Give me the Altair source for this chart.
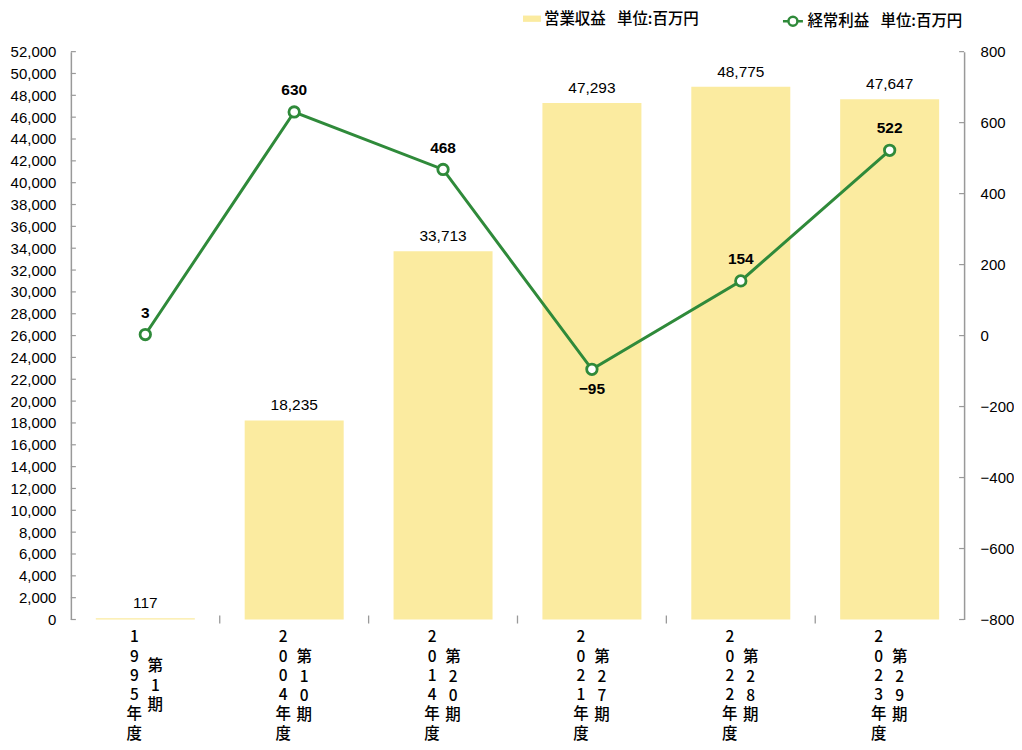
import altair as alt
import pandas as pd

# ---- data ----
years = ["1995年度", "2004年度", "2014年度", "2021年度", "2022年度", "2023年度"]
periods = ["第1期", "第10期", "第20期", "第27期", "第28期", "第29期"]
revenue = [117, 18235, 33713, 47293, 48775, 47647]
profit = [3, 630, 468, -95, 154, 522]
left_ticks = [0, 2000, 4000, 6000, 8000, 10000, 12000, 14000, 16000, 18000, 20000,
              22000, 24000, 26000, 28000, 30000, 32000, 34000, 36000, 38000, 40000,
              42000, 44000, 46000, 48000, 50000, 52000]
right_ticks = [-800, -600, -400, -200, 0, 200, 400, 600, 800]
rev_name = "営業収益\u2002\u00a0単位:百万円"
prof_name = "経常利益\u2002\u00a0単位:百万円"

BAR = "#FBEBA0"
GREEN = "#2F8A3A"
AXIS = "#999999"
NUM_FONT = "Liberation Sans, Arial, Noto Sans CJK JP"
JP_FONT = "Noto Sans CJK JP, Liberation Sans"

W, H = 895, 569
P_IN = 0.335
HALF_GAP = W / len(periods) * P_IN / 2

df = pd.DataFrame({
    "cat": periods,
    "year": ["\n".join(y) for y in years],
    "period": ["\n".join(p) for p in periods],
    "plen": [len(p) for p in periods],
    "revenue": revenue,
    "profit": profit,
    "rev_name": [rev_name] * len(periods),
    "prof_name": [prof_name] * len(periods),
})
lt = pd.DataFrame({"v": left_ticks})
rt = pd.DataFrame({"v": right_ticks})

xscale = alt.Scale(paddingInner=P_IN, paddingOuter=P_IN / 2)
x_axis = alt.X("cat:N", sort=periods, scale=xscale, title=None,
               axis=alt.Axis(labels=False, ticks=False, domainColor=AXIS, domainWidth=1.5))
x_plain = alt.X("cat:N", sort=periods, scale=xscale, axis=None)

lscale = alt.Scale(domain=[0, 52000], nice=False, zero=False)
rscale = alt.Scale(domain=[-800, 800], nice=False, zero=False)

base = alt.Chart(df)

bars = base.mark_bar(color=BAR).encode(
    x=x_axis,
    y=alt.Y("revenue:Q", scale=lscale, title=None,
            axis=alt.Axis(values=left_ticks, format=",.0f", ticks=False, tickSize=0,
                          labelPadding=15, grid=False, domainColor=AXIS, domainWidth=1.5,
                          labelFontSize=15, labelColor="black", labelFont=NUM_FONT)),
    color=alt.Color("rev_name:N", scale=alt.Scale(range=[BAR]),
                    legend=alt.Legend(title=None, orient="none", legendX=453, legendY=-42,
                                      padding=0, symbolType="M-1,-0.35H1V0.35H-1Z",
                                      symbolSize=324, symbolStrokeWidth=0,
                                      labelFontSize=15.5, labelFont=JP_FONT,
                                      labelFontWeight=500, labelLimit=400,
                                      labelColor="black", labelOffset=3)),
)

# category separator ticks on the x axis (at the band boundaries)
x_sep = base.transform_filter(f"datum.cat != '{periods[0]}'").mark_rule(
    color=AXIS, strokeWidth=1.3, xOffset=-HALF_GAP).encode(
    x=alt.X("cat:N", sort=periods, scale=xscale, axis=None, bandPosition=0),
    y=alt.value(H - 4), y2=alt.value(H + 4),
)

bar_labels = base.mark_text(dy=-15, baseline="middle", fontSize=15.5, font=NUM_FONT,
                            color="black").encode(
    x=x_plain,
    y=alt.Y("revenue:Q", scale=lscale, axis=None),
    text=alt.Text("revenue:Q", format=","),
)

left_tick_rules = alt.Chart(lt).mark_rule(color=AXIS, strokeWidth=1.2).encode(
    y=alt.Y("v:Q", scale=lscale, axis=None),
    x=alt.value(0), x2=alt.value(5),
)

LBL = dict(baseline="middle", align="center", fontSize=15.5, lineBreak="\n",
           lineHeight=19.3, font=JP_FONT, fontWeight=500, color="black")

year_labels = base.mark_text(dx=-11, **LBL).encode(
    x=x_plain, y=alt.value(587), text="year:N")
period3_labels = base.transform_filter("datum.plen == 3").mark_text(dx=10, **LBL).encode(
    x=x_plain, y=alt.value(616), text="period:N")
period4_labels = base.transform_filter("datum.plen == 4").mark_text(dx=10, **LBL).encode(
    x=x_plain, y=alt.value(607), text="period:N")

line_sym = ("M-1,0H-0.45M0.45,0H1M-0.45,0A0.45,0.45 0 1,0 0.45,0"
            "A0.45,0.45 0 1,0 -0.45,0Z")

line = base.mark_line(strokeWidth=3).encode(
    x=x_plain,
    y=alt.Y("profit:Q", scale=rscale, title=None,
            axis=alt.Axis(values=right_ticks, format=",.0f", orient="right", ticks=False,
                          tickSize=0, labelPadding=16, grid=False, domainColor=AXIS,
                          domainWidth=1.5, labelFontSize=15, labelColor="black",
                          labelFont=NUM_FONT)),
    stroke=alt.Stroke("prof_name:N", scale=alt.Scale(range=[GREEN]),
                      legend=alt.Legend(title=None, orient="none", legendX=712, legendY=-42,
                                        padding=0, symbolType=line_sym, symbolSize=400,
                                        symbolFillColor="white", symbolStrokeColor=GREEN,
                                        symbolStrokeWidth=2.5, labelLimit=400,
                                        labelFontSize=15.5, labelFont=JP_FONT,
                                        labelFontWeight=500,
                                        labelColor="black", labelOffset=3)),
)

points = base.mark_point(filled=True, fill="white", stroke=GREEN, strokeWidth=2.8,
                         size=110, shape="circle", opacity=1).encode(
    x=x_plain,
    y=alt.Y("profit:Q", scale=rscale, axis=None),
)

pos_labels = base.transform_filter("datum.profit >= 0").mark_text(
    dy=-22, baseline="middle", fontSize=15.5, font=NUM_FONT, fontWeight="bold",
    color="black").encode(
    x=x_plain, y=alt.Y("profit:Q", scale=rscale, axis=None),
    text=alt.Text("profit:Q", format=","))
neg_labels = base.transform_filter("datum.profit < 0").mark_text(
    dy=20, baseline="middle", fontSize=15.5, font=NUM_FONT, fontWeight="bold",
    color="black").encode(
    x=x_plain, y=alt.Y("profit:Q", scale=rscale, axis=None),
    text=alt.Text("profit:Q", format=","))

right_tick_rules = alt.Chart(rt).mark_rule(color=AXIS, strokeWidth=1.2).encode(
    y=alt.Y("v:Q", scale=rscale, axis=None),
    x=alt.value(W - 5), x2=alt.value(W),
)

chart = alt.layer(
    bars, x_sep, bar_labels, left_tick_rules, year_labels, period3_labels, period4_labels,
    line, points, pos_labels, neg_labels, right_tick_rules,
).resolve_scale(
    y="independent", color="independent", stroke="independent"
).properties(
    width=W, height=H,
    autosize=alt.AutoSizeParams(type="none"),
    padding={"left": 63, "top": 43, "right": 50, "bottom": 122},
    background="white",
).configure_view(stroke=None)

chart.save("out.html", embed_options={"renderer": "svg", "actions": False})
